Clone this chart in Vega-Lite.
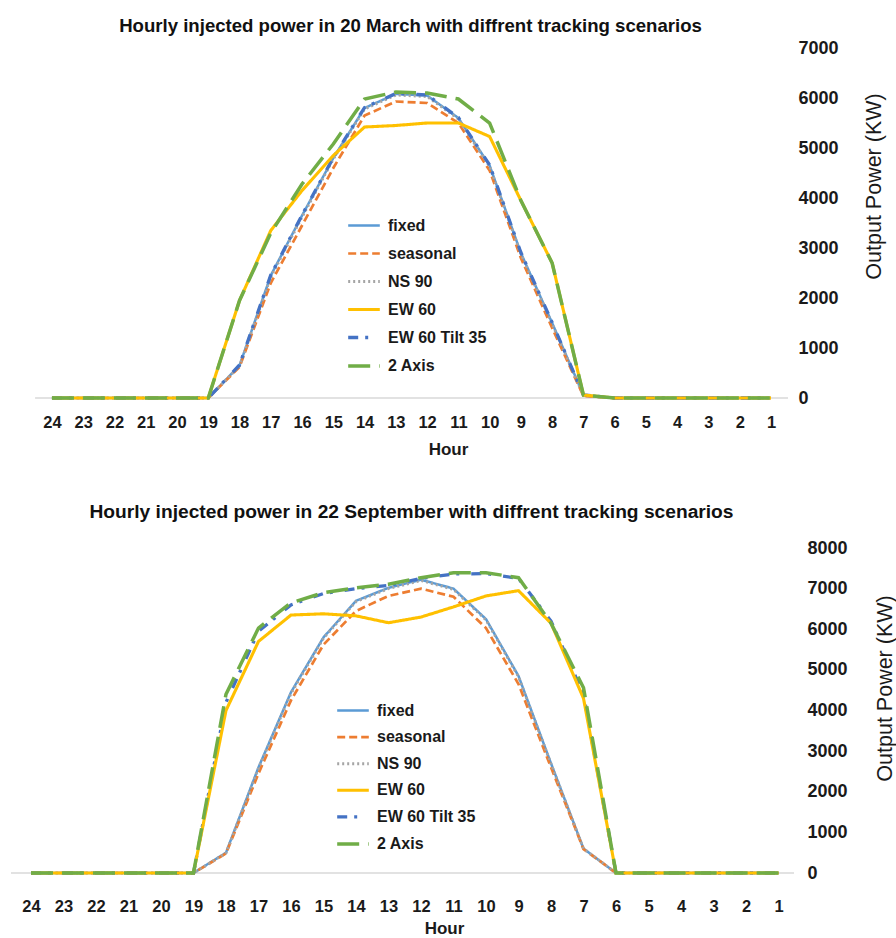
{
  "$schema": "https://vega.github.io/schema/vega-lite/v6.json",
  "background": "white",
  "padding": {"left": 10, "top": 17, "right": 0, "bottom": 0},
  "config": {
    "view": {"stroke": null},
    "font": "Liberation Sans",
    "axis": {"grid": false, "ticks": false, "domain": false, "labelColor": "#1a1a1a", "titleColor": "#1a1a1a", "labelFlush": false, "labelOverlap": false}
  },
  "datasets": {
    "march": [
      {"h": 24, "fixed": 0, "seasonal": 0, "NS 90": 0, "EW 60": 0, "EW 60 Tilt 35": 0, "2 Axis": 0},
      {"h": 23, "fixed": 0, "seasonal": 0, "NS 90": 0, "EW 60": 0, "EW 60 Tilt 35": 0, "2 Axis": 0},
      {"h": 22, "fixed": 0, "seasonal": 0, "NS 90": 0, "EW 60": 0, "EW 60 Tilt 35": 0, "2 Axis": 0},
      {"h": 21, "fixed": 0, "seasonal": 0, "NS 90": 0, "EW 60": 0, "EW 60 Tilt 35": 0, "2 Axis": 0},
      {"h": 20, "fixed": 0, "seasonal": 0, "NS 90": 0, "EW 60": 0, "EW 60 Tilt 35": 0, "2 Axis": 0},
      {"h": 19, "fixed": 0, "seasonal": 0, "NS 90": 0, "EW 60": 0, "EW 60 Tilt 35": 0, "2 Axis": 0},
      {"h": 18, "fixed": 650, "seasonal": 620, "NS 90": 640, "EW 60": 1950, "EW 60 Tilt 35": 660, "2 Axis": 1950},
      {"h": 17, "fixed": 2450, "seasonal": 2300, "NS 90": 2420, "EW 60": 3350, "EW 60 Tilt 35": 2460, "2 Axis": 3300},
      {"h": 16, "fixed": 3650, "seasonal": 3450, "NS 90": 3620, "EW 60": 4150, "EW 60 Tilt 35": 3660, "2 Axis": 4280},
      {"h": 15, "fixed": 4800, "seasonal": 4600, "NS 90": 4780, "EW 60": 4850, "EW 60 Tilt 35": 4810, "2 Axis": 5080},
      {"h": 14, "fixed": 5800, "seasonal": 5650, "NS 90": 5780, "EW 60": 5420, "EW 60 Tilt 35": 5810, "2 Axis": 5980},
      {"h": 13, "fixed": 6080, "seasonal": 5930, "NS 90": 6060, "EW 60": 5450, "EW 60 Tilt 35": 6090, "2 Axis": 6120},
      {"h": 12, "fixed": 6050, "seasonal": 5900, "NS 90": 6030, "EW 60": 5500, "EW 60 Tilt 35": 6060, "2 Axis": 6100},
      {"h": 11, "fixed": 5600, "seasonal": 5500, "NS 90": 5580, "EW 60": 5500, "EW 60 Tilt 35": 5610, "2 Axis": 5980},
      {"h": 10, "fixed": 4650, "seasonal": 4550, "NS 90": 4630, "EW 60": 5230, "EW 60 Tilt 35": 4660, "2 Axis": 5500},
      {"h": 9, "fixed": 2900, "seasonal": 2800, "NS 90": 2880, "EW 60": 3950, "EW 60 Tilt 35": 2910, "2 Axis": 3950},
      {"h": 8, "fixed": 1500, "seasonal": 1400, "NS 90": 1480, "EW 60": 2700, "EW 60 Tilt 35": 1510, "2 Axis": 2700},
      {"h": 7, "fixed": 60, "seasonal": 40, "NS 90": 50, "EW 60": 60, "EW 60 Tilt 35": 60, "2 Axis": 60},
      {"h": 6, "fixed": 0, "seasonal": 0, "NS 90": 0, "EW 60": 0, "EW 60 Tilt 35": 0, "2 Axis": 0},
      {"h": 5, "fixed": 0, "seasonal": 0, "NS 90": 0, "EW 60": 0, "EW 60 Tilt 35": 0, "2 Axis": 0},
      {"h": 4, "fixed": 0, "seasonal": 0, "NS 90": 0, "EW 60": 0, "EW 60 Tilt 35": 0, "2 Axis": 0},
      {"h": 3, "fixed": 0, "seasonal": 0, "NS 90": 0, "EW 60": 0, "EW 60 Tilt 35": 0, "2 Axis": 0},
      {"h": 2, "fixed": 0, "seasonal": 0, "NS 90": 0, "EW 60": 0, "EW 60 Tilt 35": 0, "2 Axis": 0},
      {"h": 1, "fixed": 0, "seasonal": 0, "NS 90": 0, "EW 60": 0, "EW 60 Tilt 35": 0, "2 Axis": 0}
    ],
    "september": [
      {"h": 24, "fixed": 0, "seasonal": 0, "NS 90": 0, "EW 60": 0, "EW 60 Tilt 35": 0, "2 Axis": 0},
      {"h": 23, "fixed": 0, "seasonal": 0, "NS 90": 0, "EW 60": 0, "EW 60 Tilt 35": 0, "2 Axis": 0},
      {"h": 22, "fixed": 0, "seasonal": 0, "NS 90": 0, "EW 60": 0, "EW 60 Tilt 35": 0, "2 Axis": 0},
      {"h": 21, "fixed": 0, "seasonal": 0, "NS 90": 0, "EW 60": 0, "EW 60 Tilt 35": 0, "2 Axis": 0},
      {"h": 20, "fixed": 0, "seasonal": 0, "NS 90": 0, "EW 60": 0, "EW 60 Tilt 35": 0, "2 Axis": 0},
      {"h": 19, "fixed": 0, "seasonal": 0, "NS 90": 0, "EW 60": 0, "EW 60 Tilt 35": 0, "2 Axis": 0},
      {"h": 18, "fixed": 500, "seasonal": 480, "NS 90": 490, "EW 60": 4000, "EW 60 Tilt 35": 4200, "2 Axis": 4400},
      {"h": 17, "fixed": 2600, "seasonal": 2450, "NS 90": 2580, "EW 60": 5700, "EW 60 Tilt 35": 5950, "2 Axis": 6030},
      {"h": 16, "fixed": 4450, "seasonal": 4250, "NS 90": 4420, "EW 60": 6350, "EW 60 Tilt 35": 6600, "2 Axis": 6650},
      {"h": 15, "fixed": 5800, "seasonal": 5620, "NS 90": 5780, "EW 60": 6380, "EW 60 Tilt 35": 6880, "2 Axis": 6900},
      {"h": 14, "fixed": 6700, "seasonal": 6450, "NS 90": 6680, "EW 60": 6330, "EW 60 Tilt 35": 7000, "2 Axis": 7020},
      {"h": 13, "fixed": 7020, "seasonal": 6820, "NS 90": 7000, "EW 60": 6160, "EW 60 Tilt 35": 7080, "2 Axis": 7110},
      {"h": 12, "fixed": 7220, "seasonal": 7000, "NS 90": 7200, "EW 60": 6300, "EW 60 Tilt 35": 7250, "2 Axis": 7270},
      {"h": 11, "fixed": 7000, "seasonal": 6800, "NS 90": 6980, "EW 60": 6550, "EW 60 Tilt 35": 7360, "2 Axis": 7390},
      {"h": 10, "fixed": 6250, "seasonal": 6030, "NS 90": 6230, "EW 60": 6820, "EW 60 Tilt 35": 7370, "2 Axis": 7390},
      {"h": 9, "fixed": 4850, "seasonal": 4650, "NS 90": 4830, "EW 60": 6950, "EW 60 Tilt 35": 7250, "2 Axis": 7270},
      {"h": 8, "fixed": 2700, "seasonal": 2600, "NS 90": 2690, "EW 60": 6150, "EW 60 Tilt 35": 6200, "2 Axis": 6150},
      {"h": 7, "fixed": 600, "seasonal": 590, "NS 90": 600, "EW 60": 4300, "EW 60 Tilt 35": 4400, "2 Axis": 4560},
      {"h": 6, "fixed": 0, "seasonal": 0, "NS 90": 0, "EW 60": 0, "EW 60 Tilt 35": 0, "2 Axis": 0},
      {"h": 5, "fixed": 0, "seasonal": 0, "NS 90": 0, "EW 60": 0, "EW 60 Tilt 35": 0, "2 Axis": 0},
      {"h": 4, "fixed": 0, "seasonal": 0, "NS 90": 0, "EW 60": 0, "EW 60 Tilt 35": 0, "2 Axis": 0},
      {"h": 3, "fixed": 0, "seasonal": 0, "NS 90": 0, "EW 60": 0, "EW 60 Tilt 35": 0, "2 Axis": 0},
      {"h": 2, "fixed": 0, "seasonal": 0, "NS 90": 0, "EW 60": 0, "EW 60 Tilt 35": 0, "2 Axis": 0},
      {"h": 1, "fixed": 0, "seasonal": 0, "NS 90": 0, "EW 60": 0, "EW 60 Tilt 35": 0, "2 Axis": 0}
    ]
  },
  "spacing": 44,
  "resolve": {
    "scale": {"x": "independent", "y": "independent", "color": "independent", "strokeDash": "independent", "strokeWidth": "independent"},
    "legend": {"color": "independent", "strokeDash": "independent", "strokeWidth": "independent"}
  },
  "vconcat": [
    {
      "title": {"text": "Hourly injected power in 20 March with diffrent tracking scenarios", "font": "Liberation Sans", "fontSize": 18.6, "fontWeight": "bold", "color": "#111111", "anchor": "middle", "frame": "group", "dx": 11, "offset": 3},
      "width": 777,
      "height": 350,
      "layer": [
        {
          "data": {"values": [{}]},
          "mark": {"type": "rule", "color": "#d9d9d9", "strokeWidth": 1.5},
          "encoding": {
            "x": {"datum": 24.54, "type": "quantitative",
              "scale": {"domain": [0.456, 25.31], "reverse": true, "nice": false, "zero": false},
              "axis": {"values": [1,2,3,4,5,6,7,8,9,10,11,12,13,14,15,16,17,18,19,20,21,22,23,24], "format": "d", "labelOverlap": false, "labelFontSize": 16.5, "labelFontWeight": "bold", "labelPadding": 16, "title": "Hour", "titleFontSize": 17, "titleFontWeight": "bold", "titleX": 437, "titleAlign": "center", "titlePadding": 11}},
            "x2": {"datum": 0.456},
            "y": {"datum": 0, "type": "quantitative",
              "scale": {"domain": [0, 7000], "nice": false},
              "axis": {"orient": "right", "values": [0,1000,2000,3000,4000,5000,6000,7000], "format": "d", "labelOverlap": false, "labelFontSize": 18, "labelFontWeight": "bold", "labelPadding": 10, "title": "Output Power (KW)", "titleAngle": 270, "titleFontSize": 21.5, "titleFontWeight": "normal", "titleX": 86, "titleY": 138, "titleAlign": "center", "titleBaseline": "middle"}}
          }
        },
        {
          "data": {"name": "march"},
          "transform": [{"fold": ["fixed", "seasonal", "NS 90", "EW 60 Tilt 35", "EW 60", "2 Axis"], "as": ["series", "power"]}],
          "mark": {"type": "line"},
          "encoding": {
            "x": {"field": "h", "type": "quantitative",
              "scale": {"domain": [0.456, 25.31], "reverse": true, "nice": false, "zero": false},
              "axis": {"values": [1,2,3,4,5,6,7,8,9,10,11,12,13,14,15,16,17,18,19,20,21,22,23,24], "format": "d", "labelOverlap": false, "labelFontSize": 16.5, "labelFontWeight": "bold", "labelPadding": 16, "title": "Hour", "titleFontSize": 17, "titleFontWeight": "bold", "titleX": 437, "titleAlign": "center", "titlePadding": 11}},
            "y": {"field": "power", "type": "quantitative",
              "scale": {"domain": [0, 7000], "nice": false},
              "axis": {"orient": "right", "values": [0,1000,2000,3000,4000,5000,6000,7000], "format": "d", "labelOverlap": false, "labelFontSize": 18, "labelFontWeight": "bold", "labelPadding": 10, "title": "Output Power (KW)", "titleAngle": 270, "titleFontSize": 21.5, "titleFontWeight": "normal", "titleX": 86, "titleY": 138, "titleAlign": "center", "titleBaseline": "middle"}},
            "color": {"field": "series", "type": "nominal",
              "scale": {"domain": ["fixed", "seasonal", "NS 90", "EW 60", "EW 60 Tilt 35", "2 Axis"], "range": ["#5b9bd5", "#ed7d31", "#a5a5a5", "#ffc000", "#4472c4", "#70ad47"]},
              "legend": {"title": null, "orient": "none", "legendX": 335, "legendY": 160, "symbolType": "stroke", "symbolSize": 1000, "labelFontSize": 16, "labelFontWeight": "bold", "labelColor": "#1a1a1a", "labelOffset": 6, "padding": 0, "rowPadding": 2}},
            "strokeDash": {"field": "series", "type": "nominal",
              "scale": {"domain": ["fixed", "seasonal", "NS 90", "EW 60", "EW 60 Tilt 35", "2 Axis"], "range": [[1, 0], [8, 4], [2, 3], [1, 0], [10, 7, 3, 12], [22, 9]]},
              "legend": {"title": null, "orient": "none", "legendX": 335, "legendY": 160, "symbolType": "stroke", "symbolSize": 1000, "labelFontSize": 16, "labelFontWeight": "bold", "labelColor": "#1a1a1a", "labelOffset": 6, "padding": 0, "rowPadding": 2}},
            "strokeWidth": {"field": "series", "type": "nominal",
              "scale": {"domain": ["fixed", "seasonal", "NS 90", "EW 60", "EW 60 Tilt 35", "2 Axis"], "range": [2.5, 3.5, 2.5, 2.5, 3.5, 4]},
              "legend": {"title": null, "orient": "none", "legendX": 335, "legendY": 160, "symbolType": "stroke", "symbolSize": 1000, "labelFontSize": 16, "labelFontWeight": "bold", "labelColor": "#1a1a1a", "labelOffset": 6, "padding": 0, "rowPadding": 2}}
          }
        }
      ]
    },
    {
      "title": {"text": "Hourly injected power in 22 September with diffrent tracking scenarios", "font": "Liberation Sans", "fontSize": 19.2, "fontWeight": "bold", "color": "#111111", "anchor": "middle", "frame": "group", "dx": 9, "offset": 17},
      "width": 783,
      "height": 325,
      "layer": [
        {
          "data": {"values": [{}]},
          "mark": {"type": "rule", "color": "#d9d9d9", "strokeWidth": 1.5},
          "encoding": {
            "x": {"datum": 24.615, "type": "quantitative",
              "scale": {"domain": [0.523, 24.615], "reverse": true, "nice": false, "zero": false},
              "axis": {"values": [1,2,3,4,5,6,7,8,9,10,11,12,13,14,15,16,17,18,19,20,21,22,23,24], "format": "d", "labelOverlap": false, "labelFontSize": 16.5, "labelFontWeight": "bold", "labelPadding": 25, "title": "Hour", "titleFontSize": 17, "titleFontWeight": "bold", "titleX": 433, "titleAlign": "center", "titlePadding": 6}},
            "x2": {"datum": 0.523},
            "y": {"datum": 0, "type": "quantitative",
              "scale": {"domain": [0, 8000], "nice": false},
              "axis": {"orient": "right", "values": [0,1000,2000,3000,4000,5000,6000,7000,8000], "format": "d", "labelOverlap": false, "labelFontSize": 18, "labelFontWeight": "bold", "labelPadding": 13, "title": "Output Power (KW)", "titleAngle": 270, "titleFontSize": 21.5, "titleFontWeight": "normal", "titleX": 91, "titleY": 140, "titleAlign": "center", "titleBaseline": "middle"}}
          }
        },
        {
          "data": {"name": "september"},
          "transform": [{"fold": ["fixed", "seasonal", "NS 90", "EW 60 Tilt 35", "EW 60", "2 Axis"], "as": ["series", "power"]}],
          "mark": {"type": "line"},
          "encoding": {
            "x": {"field": "h", "type": "quantitative",
              "scale": {"domain": [0.523, 24.615], "reverse": true, "nice": false, "zero": false},
              "axis": {"values": [1,2,3,4,5,6,7,8,9,10,11,12,13,14,15,16,17,18,19,20,21,22,23,24], "format": "d", "labelOverlap": false, "labelFontSize": 16.5, "labelFontWeight": "bold", "labelPadding": 25, "title": "Hour", "titleFontSize": 17, "titleFontWeight": "bold", "titleX": 433, "titleAlign": "center", "titlePadding": 6}},
            "y": {"field": "power", "type": "quantitative",
              "scale": {"domain": [0, 8000], "nice": false},
              "axis": {"orient": "right", "values": [0,1000,2000,3000,4000,5000,6000,7000,8000], "format": "d", "labelOverlap": false, "labelFontSize": 18, "labelFontWeight": "bold", "labelPadding": 13, "title": "Output Power (KW)", "titleAngle": 270, "titleFontSize": 21.5, "titleFontWeight": "normal", "titleX": 91, "titleY": 140, "titleAlign": "center", "titleBaseline": "middle"}},
            "color": {"field": "series", "type": "nominal",
              "scale": {"domain": ["fixed", "seasonal", "NS 90", "EW 60", "EW 60 Tilt 35", "2 Axis"], "range": ["#5b9bd5", "#ed7d31", "#a5a5a5", "#ffc000", "#4472c4", "#70ad47"]},
              "legend": {"title": null, "orient": "none", "legendX": 324, "legendY": 145, "symbolType": "stroke", "symbolSize": 1000, "labelFontSize": 16, "labelFontWeight": "bold", "labelColor": "#1a1a1a", "labelOffset": 6, "padding": 0, "rowPadding": 0.6}},
            "strokeDash": {"field": "series", "type": "nominal",
              "scale": {"domain": ["fixed", "seasonal", "NS 90", "EW 60", "EW 60 Tilt 35", "2 Axis"], "range": [[1, 0], [8, 4], [2, 3], [1, 0], [10, 7, 3, 12], [22, 9]]},
              "legend": {"title": null, "orient": "none", "legendX": 324, "legendY": 145, "symbolType": "stroke", "symbolSize": 1000, "labelFontSize": 16, "labelFontWeight": "bold", "labelColor": "#1a1a1a", "labelOffset": 6, "padding": 0, "rowPadding": 0.6}},
            "strokeWidth": {"field": "series", "type": "nominal",
              "scale": {"domain": ["fixed", "seasonal", "NS 90", "EW 60", "EW 60 Tilt 35", "2 Axis"], "range": [2.5, 3.5, 2.5, 2.5, 3.5, 4]},
              "legend": {"title": null, "orient": "none", "legendX": 324, "legendY": 145, "symbolType": "stroke", "symbolSize": 1000, "labelFontSize": 16, "labelFontWeight": "bold", "labelColor": "#1a1a1a", "labelOffset": 6, "padding": 0, "rowPadding": 0.6}}
          }
        }
      ]
    }
  ]
}
